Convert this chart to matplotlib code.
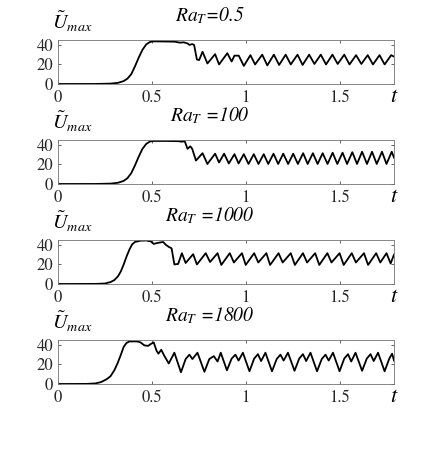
import numpy as np
import matplotlib
matplotlib.use("Agg")
import matplotlib.pyplot as plt

plt.rcParams['mathtext.fontset'] = 'stix'
plt.rcParams['font.family'] = ['STIXGeneral', 'DejaVu Serif']

# Ra_T = 0.5
t1 = [0, 0.2, 0.28, 0.32, 0.35, 0.37, 0.39, 0.41, 0.43, 0.45, 0.47, 0.49, 0.51, 0.56,
      0.62, 0.65, 0.67, 0.69, 0.70, 0.715, 0.725, 0.74, 0.752, 0.77, 0.796, 0.837,
      0.858, 0.902, 0.925, 0.94, 0.963, 0.99, 1.025, 1.05, 1.088, 1.115, 1.15, 1.178,
      1.213, 1.24, 1.276, 1.303, 1.338, 1.366, 1.40, 1.428, 1.462, 1.49, 1.525, 1.553,
      1.588, 1.616, 1.65, 1.678, 1.713, 1.74, 1.775, 1.79]
u1 = [0, 0.05, 0.4, 1.2, 3, 5.5, 10, 18, 27, 35, 40.5, 43, 43.6, 43.5,
      43.3, 42.3, 42.6, 41.5, 40, 40.8, 40, 25, 24.5, 33, 21, 30.5,
      20, 31.5, 23, 29, 29, 18.5, 29.5, 20, 30, 19, 30, 19.5,
      30, 20, 30, 19.5, 30, 20.5, 30, 20, 30, 20.5, 30, 20,
      29.5, 20.5, 29.5, 20, 29.5, 20, 29.5, 28]

# Ra_T = 100
t2 = [0, 0.2, 0.28, 0.32, 0.35, 0.37, 0.39, 0.41, 0.43, 0.45, 0.47, 0.49, 0.51, 0.58,
      0.64, 0.66, 0.675, 0.69, 0.705, 0.715, 0.735, 0.77, 0.796, 0.837, 0.858, 0.885,
      0.91, 0.94, 0.962, 0.99, 1.015, 1.043, 1.068, 1.096, 1.12, 1.148, 1.173, 1.2,
      1.226, 1.253, 1.278, 1.306, 1.33, 1.358, 1.383, 1.41, 1.436, 1.463, 1.488, 1.516,
      1.54, 1.568, 1.593, 1.62, 1.646, 1.673, 1.698, 1.726, 1.75, 1.778, 1.79]
u2 = [0, 0.05, 0.4, 1.3, 3.2, 6, 11, 19, 28, 36, 41, 43.5, 44, 44,
      43.8, 43.3, 43.8, 36, 38.5, 36, 24, 31.5, 20.5, 31, 22, 31,
      21, 30.5, 21, 30.5, 20.5, 30.5, 20.5, 30.5, 20.5, 31, 20.5, 31,
      20.5, 31, 20.5, 31.5, 20.5, 31.5, 20.5, 31.5, 20.5, 32, 20.5, 32,
      20.5, 32.5, 20.5, 33, 20.5, 33, 20.5, 33, 20.5, 33, 27]

# Ra_T = 1000
t3 = [0, 0.2, 0.25, 0.28, 0.3, 0.32, 0.335, 0.35, 0.365, 0.38, 0.395, 0.41, 0.44, 0.47,
      0.495, 0.51, 0.53, 0.548, 0.56, 0.575, 0.59, 0.605, 0.62, 0.64, 0.66, 0.68,
      0.72, 0.74, 0.787, 0.81, 0.85, 0.87, 0.915, 0.937, 0.98, 1.0, 1.045, 1.067,
      1.11, 1.13, 1.175, 1.197, 1.24, 1.262, 1.305, 1.327, 1.37, 1.392, 1.435, 1.457,
      1.5, 1.522, 1.565, 1.587, 1.63, 1.652, 1.695, 1.717, 1.75, 1.772, 1.79]
u3 = [0, 0.1, 0.5, 2, 4, 8, 13, 20, 28, 35, 40.5, 43, 44.3, 44.5,
      43.5, 41, 42, 42.6, 43, 40, 38, 36.5, 20, 20.5, 31.5, 21.5,
      30.5, 20, 31.5, 22.5, 31.5, 19.5, 31.5, 22, 31.5, 19.5, 31.5, 22,
      31.5, 19.5, 31.5, 22, 31.5, 19.5, 31.5, 22, 31.5, 19.5, 31.5, 22,
      31.5, 19.5, 31.5, 22, 31.5, 19.5, 31.5, 22, 31.5, 21, 30]

# Ra_T = 1800
t4 = [0, 0.15, 0.2, 0.23, 0.26, 0.28, 0.3, 0.317, 0.335, 0.35, 0.365, 0.38, 0.42, 0.44,
      0.46, 0.48, 0.495, 0.51, 0.525, 0.535, 0.55, 0.566, 0.59, 0.62, 0.655, 0.68,
      0.70, 0.716, 0.743, 0.78, 0.806, 0.83, 0.85, 0.867, 0.9, 0.925, 0.945, 0.962,
      0.985, 1.02, 1.045, 1.065, 1.082, 1.105, 1.14, 1.165, 1.185, 1.202, 1.225, 1.26,
      1.285, 1.305, 1.322, 1.345, 1.38, 1.405, 1.425, 1.442, 1.465, 1.50, 1.525, 1.545,
      1.562, 1.585, 1.62, 1.645, 1.665, 1.682, 1.705, 1.74, 1.765, 1.78, 1.79]
u4 = [0, 0.1, 0.6, 2, 5, 8, 14, 21, 30, 38, 42, 43.5, 43.6, 42.5,
      39.5, 39, 41, 42.5, 34, 31, 35, 29, 21, 32, 12, 25.5,
      30, 25.5, 32, 12.5, 25.5, 28.5, 23, 32, 14, 26, 30, 24,
      32, 13, 26, 30.5, 23.5, 32, 13, 25.5, 30, 24, 32, 13.5,
      26, 30.5, 23.5, 32, 13, 25.5, 30, 24, 32, 13, 26, 30.5,
      23, 32, 13.5, 26, 30.5, 23.5, 32, 13, 26, 31, 24]

titles = [r'$Ra_T$=0.5', r'$Ra_T$ =100', r'$Ra_T$ =1000', r'$Ra_T$ =1800']
series = [(t1, u1), (t2, u2), (t3, u3), (t4, u4)]

fig = plt.figure(figsize=(4.36, 4.59), dpi=100)
W, H = 436.0, 459.0
for k, (t, u) in enumerate(series):
    bottom = 84 + 100 * k
    ax = fig.add_axes([58 / W, 1 - bottom / H, 336 / W, 44 / H])
    ax.plot(t, u, color='k', lw=1.3)
    ax.set_xlim(0, 1.79)
    ax.set_ylim(0, 45)
    ax.set_xticks([0, 0.5, 1, 1.5])
    ax.set_xticklabels(['0', '0.5', '1', '1.5'])
    ax.set_yticks([0, 20, 40])
    ax.tick_params(direction='in', top=True, right=True, length=2.5, width=0.5,
                   labelsize=12, colors='0.15')
    ax.tick_params(axis='x', pad=4)
    ax.tick_params(axis='y', pad=3.5)
    for s in ax.spines.values():
        s.set_linewidth(0.6)
        s.set_color('0.45')
    ax.text(0.043, 1.25, r'$\tilde{U}_{max}$', transform=ax.transAxes,
            ha='center', va='baseline', fontsize=14.5)
    ax.text(0.452, 1.42, titles[k], transform=ax.transAxes, ha='center',
            va='baseline', fontsize=14, style='italic')
    ax.text(1.0, -0.3, r'$t$', transform=ax.transAxes, ha='center',
            va='center', fontsize=16)

fig.savefig('out.png', dpi=100)
